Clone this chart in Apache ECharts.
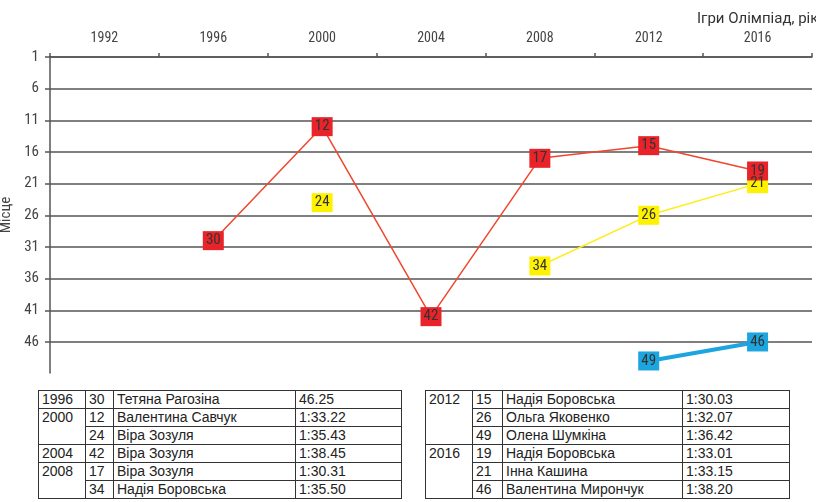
<!DOCTYPE html>
<html>
<head>
<meta charset="utf-8">
<script src="https://cdn.jsdelivr.net/npm/echarts@6/dist/echarts.min.js"></script>
<style>
  body { margin: 0; background: #fff; width: 816px; height: 502px; overflow: hidden; position: relative; }
  #chart { position: absolute; left: 0; top: 0; width: 816px; height: 385px; }
  table.res { position: absolute; top: 390px; border-collapse: collapse; font-family: 'Liberation Sans', Arial, sans-serif; font-size: 14px; color: #222; table-layout: fixed; }
  table.res td { border: 1px solid #333; padding: 0 3px; height: 17px; line-height: 17px; vertical-align: top; white-space: nowrap; }
  #tblLeft { left: 38px; width: 363px; }
  #tblRight { left: 425px; width: 364px; }
</style>
</head>
<body>
<div id="chart"></div>
<table class="res" id="tblLeft"></table>
<table class="res" id="tblRight"></table>
<script>
// роки Олімпіад (категорії осі X)
const years = ['1992', '1996', '2000', '2004', '2008', '2012', '2016']
// місця спортсменок, null - не брали участі
const placesRed = [null, 30, 12, 42, 17, 15, 19]
const placesYellow = [null, null, 24, null, 34, 26, 21]
const placesBlue = [null, null, null, null, null, 49, 46]

// таблиця результатів
const tableLeft = [
  ['1996', [[30, 'Тетяна Рагозіна', '46.25']]],
  ['2000', [[12, 'Валентина Савчук', '1:33.22'], [24, 'Віра Зозуля', '1:35.43']]],
  ['2004', [[42, 'Віра Зозуля', '1:38.45']]],
  ['2008', [[17, 'Віра Зозуля', '1:30.31'], [34, 'Надія Боровська', '1:35.50']]],
]
const tableRight = [
  ['2012', [[15, 'Надія Боровська', '1:30.03'], [26, 'Ольга Яковенко', '1:32.07'], [49, 'Олена Шумкіна', '1:36.42']]],
  ['2016', [[19, 'Надія Боровська', '1:33.01'], [21, 'Інна Кашина', '1:33.15'], [46, 'Валентина Мирончук', '1:38.20']]],
]

const FONT = "'Liberation Sans Narrow', 'Roboto Condensed', Roboto, sans-serif"

function buildTable(el, groups, widths) {
  let html = '<colgroup>' + widths.map(w => `<col style="width:${w}px">`).join('') + '</colgroup>'
  groups.forEach(([year, rows]) => {
    rows.forEach((r, i) => {
      html += '<tr>'
      if (i === 0) html += `<td rowspan="${rows.length}">${year}</td>`
      html += `<td>${r[0]}</td><td>${r[1]}</td><td>${r[2]}</td></tr>`
    })
  })
  el.innerHTML = html
}
buildTable(document.getElementById('tblLeft'), tableLeft, [47, 28, 182, 106])
buildTable(document.getElementById('tblRight'), tableRight, [47, 30, 180, 107])

function boxSeries(data, fill, lineColor, lineWidth) {
  return {
    type: 'line',
    data: data,
    symbol: 'rect',
    symbolSize: [21, 19],
    itemStyle: { color: fill, borderWidth: 0 },
    lineStyle: { color: lineColor, width: lineWidth },
    label: { show: true, position: 'inside', color: '#333', fontSize: 15, fontFamily: FONT },
    emphasis: { disabled: true },
    animation: false,
  }
}

const chart = echarts.init(document.getElementById('chart'))
chart.setOption({
  animation: false,
  title: {
    text: 'Ігри Олімпіад, рік', left: 692, top: 7,
    textStyle: { fontSize: 15, fontWeight: 'normal', color: '#333', fontFamily: 'Roboto, sans-serif' }
  },
  grid: { left: 50, right: 4, top: 57, bottom: 12, outerBoundsMode: 'none', containLabel: false },
  xAxis: {
    type: 'category', position: 'top', data: years, boundaryGap: true,
    axisLine: { lineStyle: { color: '#555', width: 1.5 } },
    axisTick: { show: true, length: 4, lineStyle: { color: '#555', width: 1.5 } },
    axisLabel: { color: '#444', fontSize: 14, margin: 12, fontFamily: FONT },
    splitLine: { show: false }
  },
  yAxis: {
    type: 'value', inverse: true, min: 1, max: 50.9, interval: 5,
    name: 'Місце', nameLocation: 'middle', nameGap: 35, nameRotate: 90,
    nameTextStyle: { fontSize: 15, color: '#444', fontFamily: FONT },
    axisLine: { show: true, lineStyle: { color: '#555', width: 1.5 } },
    axisTick: { show: true, length: 5, lineStyle: { color: '#555', width: 1.5 } },
    axisLabel: { color: '#444', fontSize: 15, margin: 11, fontFamily: FONT, showMaxLabel: false },
    splitLine: { show: true, showMaxLine: false, lineStyle: { color: '#555', width: 1.5 } }
  },
  series: [
    boxSeries(placesYellow, '#fff200', '#ffec1a', 1.5),
    boxSeries(placesRed, '#e8232a', '#f0462d', 1.5),
    boxSeries(placesBlue, '#1ca5de', '#1ca5de', 4),
  ]
})
</script>
</body>
</html>
